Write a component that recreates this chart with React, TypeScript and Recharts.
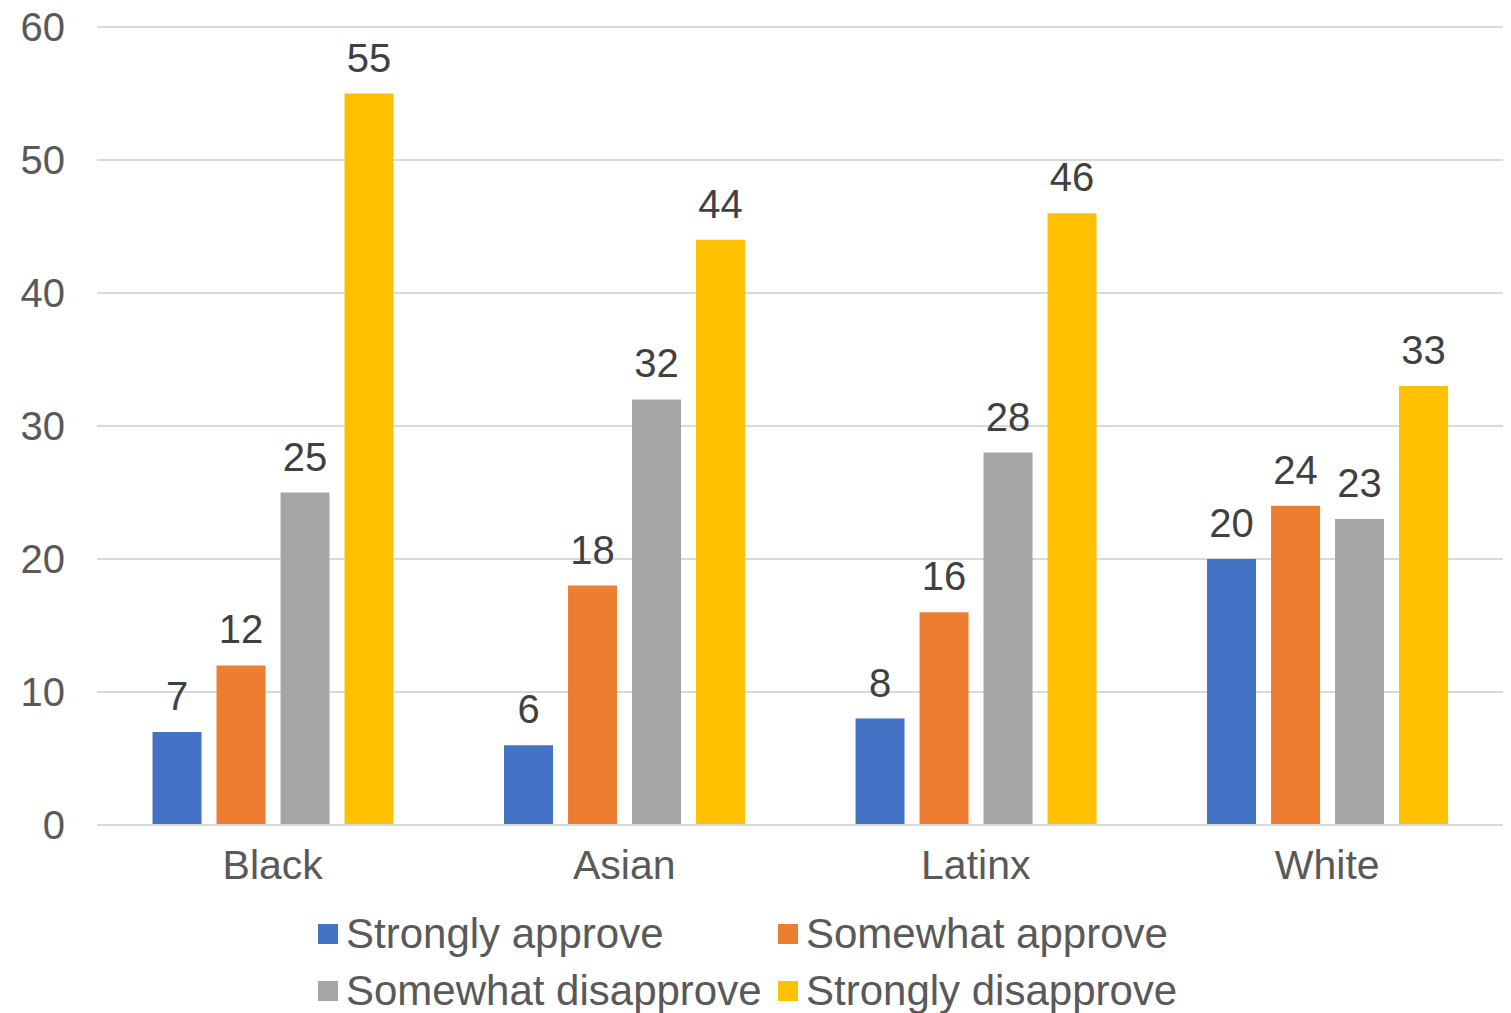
import { BarChart, Bar, XAxis, YAxis, CartesianGrid, Legend, LabelList } from "recharts";

const groups = ["Black", "Asian", "Latinx", "White"];
const stronglyApprove = [7, 6, 8, 20];
const somewhatApprove = [12, 18, 16, 24];
const somewhatDisapprove = [25, 32, 28, 23];
const stronglyDisapprove = [55, 44, 46, 33];
const yTicks = [0, 10, 20, 30, 40, 50, 60];

const seriesList = [
  { key: "sa", name: "Strongly approve", color: "#4472C4" },
  { key: "swa", name: "Somewhat approve", color: "#ED7D31" },
  { key: "swd", name: "Somewhat disapprove", color: "#A5A5A5" },
  { key: "sd", name: "Strongly disapprove", color: "#FFC000" },
];

const data = groups.map((g, i) => ({
  group: g,
  sa: stronglyApprove[i],
  swa: somewhatApprove[i],
  swd: somewhatDisapprove[i],
  sd: stronglyDisapprove[i],
}));

const FONT = "'Liberation Sans', Arial, Helvetica, sans-serif";

function LegendBox() {
  const rows = [seriesList.slice(0, 2), seriesList.slice(2, 4)];
  return (
    <div style={{ fontFamily: FONT, color: "#595959", fontSize: 42, paddingLeft: 318, paddingTop: 10 }}>
      {rows.map((row, r) => (
        <div key={r} style={{ display: "flex", height: 57, alignItems: "center" }}>
          {row.map((s, j) => (
            <div key={s.key} style={{ display: "flex", alignItems: "center", width: j === 0 ? 460 : 440 }}>
              <span style={{ width: 20, height: 20, background: s.color, marginRight: 8, display: "inline-block" }} />
              <span style={{ whiteSpace: "nowrap" }}>{s.name}</span>
            </div>
          ))}
        </div>
      ))}
    </div>
  );
}

export default function App() {
  return (
    <div style={{ position: "absolute", left: 0, top: 0, width: 1511, height: 1013, background: "#fff" }}>
      <BarChart
        width={1511}
        height={1013}
        data={data}
        margin={{ top: 27, right: 8, left: 0, bottom: 0 }}
        barCategoryGap="15.8%"
        barGap={15}
      >
        <CartesianGrid vertical={false} stroke="#D9D9D9" strokeWidth={2} />
        <XAxis
          dataKey="group"
          height={70}
          axisLine={{ stroke: "#D9D9D9", strokeWidth: 2 }}
          tickLine={false}
          tickMargin={19}
          tick={{ fontSize: 41, fill: "#595959", fontFamily: FONT }}
        />
        <YAxis
          width={97}
          domain={[0, 60]}
          ticks={yTicks}
          axisLine={false}
          tickLine={false}
          tickMargin={26}
          tick={{ fontSize: 40, fill: "#595959", fontFamily: FONT }}
        />
        <Legend verticalAlign="bottom" height={118} content={() => <LegendBox />} />
        {seriesList.map((s) => (
          <Bar key={s.key} dataKey={s.key} name={s.name} fill={s.color} isAnimationActive={false}>
            <LabelList
              dataKey={s.key}
              position="top"
              offset={22}
              style={{ fontSize: 40, fill: "#404040", fontFamily: FONT }}
            />
          </Bar>
        ))}
      </BarChart>
    </div>
  );
}
